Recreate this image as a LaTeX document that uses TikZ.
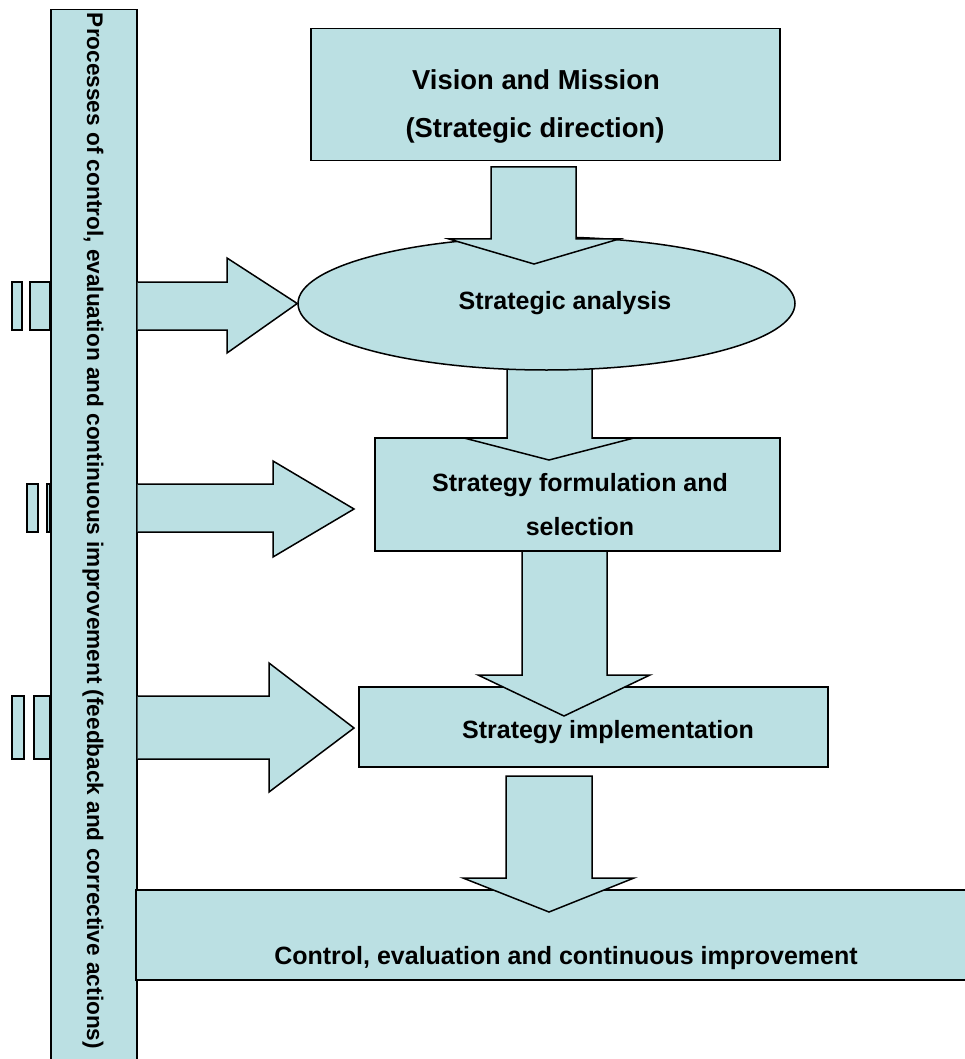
\documentclass[tikz,border=0pt]{standalone}
\usepackage{fontspec}
\setmainfont{Liberation Sans}
\usetikzlibrary{shapes.geometric}
\definecolor{paleblue}{RGB}{187,224,227}
\tikzset{
  blk/.style={draw=black, fill=paleblue, line width=1.5pt, line join=miter},
  boxnode/.style={blk, rectangle, inner sep=0pt},
  lbl/.style={font=\bfseries\fontsize{25}{30}\selectfont, align=center, inner sep=0pt},
}
\begin{document}
\begin{tikzpicture}[x=1pt,y=-1pt]
\useasboundingbox (0,0) rectangle (964,1059);

% vertical feedback bar on the left
\node[boxnode, minimum width=86pt, minimum height=1070pt, anchor=north west] (bar) at (50,9) {};
\node[lbl, rotate=-90, font=\bfseries\fontsize{22.6}{27}\selectfont] (bartxt) at (93,531)
  {Processes of control, evaluation and continuous improvement (feedback and corrective actions)};

% small tabs beside the bar
\node[boxnode, minimum width=10pt, minimum height=48pt] (tabAa) at (17,306) {};
\node[boxnode, minimum width=20pt, minimum height=48pt] (tabAb) at (40,306) {};
\node[boxnode, minimum width=11pt, minimum height=48pt] (tabBa) at (32.5,508) {};
\node[boxnode, minimum width=3pt, minimum height=48pt] (tabBb) at (48.5,508) {};
\node[boxnode, minimum width=12pt, minimum height=63pt] (tabCa) at (18,727.5) {};
\node[boxnode, minimum width=16pt, minimum height=63pt] (tabCb) at (42,727.5) {};

% main boxes
\node[boxnode, minimum width=862pt, minimum height=90pt, anchor=north west] (ctrl) at (135,889) {};
\node[lbl] (ctrltxt) at (566,958) {Control, evaluation and continuous improvement};

\node[boxnode, minimum width=469pt, minimum height=80pt, anchor=north west] (impl) at (358,686) {};
\node[lbl] (impltxt) at (608,732) {Strategy implementation};

% arrow: implementation -> control
\draw[blk] (506,776) -- (592,776) -- (592,878) -- (634,878) -- (549,912) -- (463,878) -- (506,878) -- cycle;

% arrow: formulation -> implementation
\draw[blk] (522,550) -- (607,550) -- (607,675) -- (650,675) -- (564,716) -- (478,675) -- (522,675) -- cycle;

\node[boxnode, minimum width=405pt, minimum height=113pt, anchor=north west] (form) at (374,437) {};
\node[lbl] (formtxt1) at (580,485) {Strategy formulation and};
\node[lbl] (formtxt2) at (580,527) {selection};

% arrow: analysis -> formulation
\draw[blk] (507,340) -- (592,340) -- (592,438) -- (634,438) -- (549,460) -- (464,438) -- (507,438) -- cycle;

\node[blk, ellipse, minimum width=497pt, minimum height=133pt, inner sep=0pt] (anal) at (546.5,303.5) {};
\node[lbl] (analtxt) at (565,303) {Strategic analysis};

% arrow: vision -> analysis
\draw[blk] (491,167) -- (576,167) -- (576,239) -- (619,239) -- (534,264) -- (449,239) -- (491,239) -- cycle;

\node[boxnode, minimum width=469pt, minimum height=132pt, anchor=north west] (vis) at (310,28) {};
\node[lbl, font=\bfseries\fontsize{27.4}{33}\selectfont] (vistxt1) at (536,80) {Vision and Mission};
\node[lbl, font=\bfseries\fontsize{27.4}{33}\selectfont] (vistxt2) at (535,130) {(Strategic direction)};

% feedback arrows from the bar
\draw[blk] (bar.east |- 0,282) -- (227,282) -- (227,258) -- (anal.west) -- (227,353) -- (227,330) -- (bar.east |- 0,330);
\draw[blk] (bar.east |- 0,484) -- (273,484) -- (273,461) -- (354,509) -- (273,557) -- (273,532) -- (bar.east |- 0,532);
\draw[blk] (bar.east |- 0,696) -- (269,696) -- (269,663) -- (354,728) -- (269,792) -- (269,759) -- (bar.east |- 0,759);
\end{tikzpicture}
\end{document}
